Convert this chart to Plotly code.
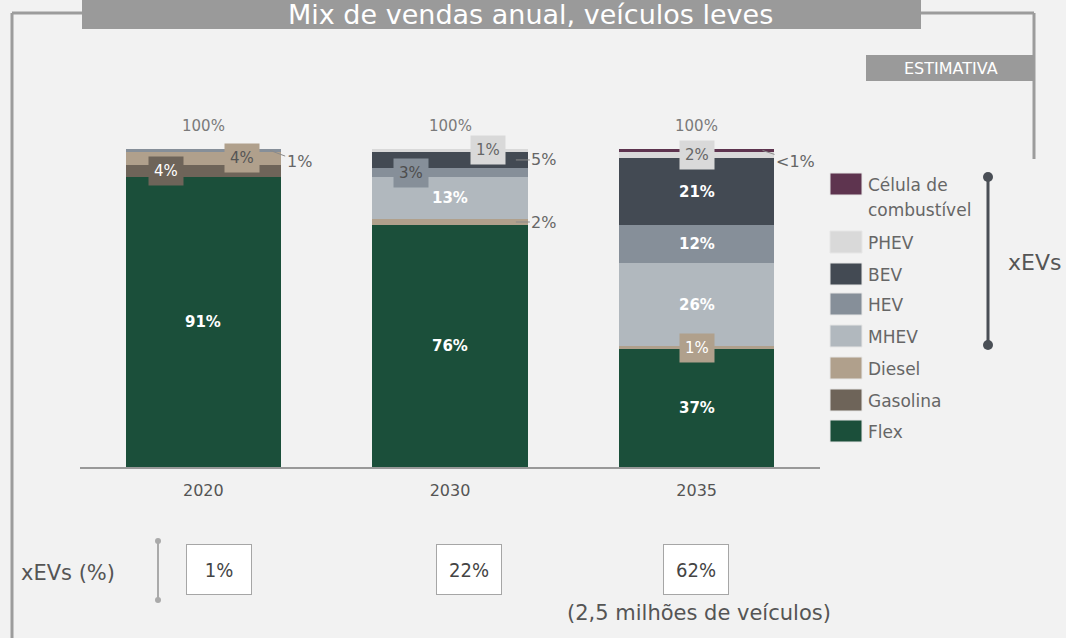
import plotly.graph_objects as go

# ---------------- data ----------------
years = ["2020", "2030", "2035"]
series_names = ["Flex", "Gasolina", "Diesel", "MHEV", "HEV", "BEV", "PHEV", "Célula de combustível"]
flex = [91, 76, 37]
gasolina = [4, 0, 0]
diesel = [4, 2, 1]
mhev = [0, 13, 26]
hev = [1, 3, 12]
bev = [0, 5, 21]
phev = [0, 1, 2]
celula = [0, 0, 1]
xev_series = ["MHEV", "HEV", "BEV", "PHEV", "Célula de combustível"]
legend_labels = ["Célula de<br>combustível", "PHEV", "BEV", "HEV", "MHEV", "Diesel", "Gasolina", "Flex"]
title_text = "Mix de vendas anual, veículos leves"
badge_text = "ESTIMATIVA"
xev_axis_text = "xEVs (%)"
xev_note = "(2,5 milhões de veículos)"
bracket_text = "xEVs"

values = dict(zip(series_names, [flex, gasolina, diesel, mhev, hev, bev, phev, celula]))

# ---------------- styles ----------------
colors = {
    "Flex": "#1b4f3a",
    "Gasolina": "#6e6459",
    "Diesel": "#b0a08c",
    "MHEV": "#b1b8be",
    "HEV": "#868f99",
    "BEV": "#434a53",
    "PHEV": "#d9d9d9",
    "Célula de combustível": "#5e344f",
}
BG = "#f2f2f2"
FONT = "DejaVu Sans, Verdana, sans-serif"
NARROW = "DejaVu Sans Condensed, Liberation Sans, sans-serif"

W, H = 1066, 638
L, R, T, B = 80, 246, 117, 171
PW, PH = W - L - R, H - T - B
YMAX = 110


def px(x):
    return (x - L) / PW


def py(y):
    return (H - B - y) / PH


def paper_text(x, y, text, font, xanchor="center", yanchor="middle", **kw):
    d = dict(x=px(x), y=py(y), xref="paper", yref="paper", text=text,
             showarrow=False, xanchor=xanchor, yanchor=yanchor, font=font)
    d.update(kw)
    return d


fig = go.Figure()
for name in series_names:
    fig.add_trace(go.Bar(
        x=years, y=values[name], name=name,
        marker=dict(color=colors[name], line=dict(width=0)),
        width=0.63, showlegend=False, hoverinfo="skip",
    ))

annotations = []
shapes = []

# cumulative bases
bases = {}
cum = [0, 0, 0]
for name in series_names:
    bases[name] = list(cum)
    cum = [c + v for c, v in zip(cum, values[name])]
totals = cum

# big inside labels
for name in series_names:
    for i, v in enumerate(values[name]):
        if v >= 10:
            annotations.append(dict(
                x=i, y=bases[name][i] + v / 2, xref="x", yref="y",
                xanchor="center", yanchor="middle",
                text=f"<b>{v}%</b>", showarrow=False,
                font=dict(family=FONT, size=15, color="white")))

# small boxed labels: (series, year index, x pixel shift, font color)
boxed = [
    ("Gasolina", 0, -37, "white"),
    ("Diesel", 0, 39, "#555555"),
    ("HEV", 1, -39, "#4d4d4d"),
    ("PHEV", 1, 38, "#666666"),
    ("PHEV", 2, 0, "#666666"),
    ("Diesel", 2, 0, "white"),
]
for name, i, shift, fc in boxed:
    v = values[name][i]
    annotations.append(dict(
        x=i, y=bases[name][i] + v / 2, xref="x", yref="y", xshift=shift,
        xanchor="center", yanchor="middle",
        text=f"{v}%", showarrow=False, bgcolor=colors[name], borderpad=5,
        font=dict(family=FONT, size=15, color=fc)))

# outside labels with leader lines: (series, year index, tip x offset (bar units), ax, ay, text)
outside = [
    ("HEV", 0, 0.271, 29, 11, "1%"),
    ("BEV", 1, 0.267, 28, 0, "5%"),
    ("Diesel", 1, 0.267, 28, 0, "2%"),
    ("Célula de combustível", 2, 0.267, 33, 11, "<1%"),
]
for name, i, dx, ax, ay, txt in outside:
    v = values[name][i]
    annotations.append(dict(
        x=i + dx, y=bases[name][i] + v / 2, xref="x", yref="y",
        text=txt.replace("<", "&lt;"), showarrow=True, arrowhead=0, arrowwidth=1,
        arrowcolor="#8a8a8a", ax=ax, ay=ay, axref="pixel", ayref="pixel",
        font=dict(family=FONT, size=16, color="#666666")))

# totals above bars
for i, t in enumerate(totals):
    annotations.append(dict(
        x=i, y=t, xref="x", yref="y", xanchor="center", yanchor="bottom", yshift=12,
        text=f"{round(t)}%", showarrow=False,
        font=dict(family=FONT, size=15, color="#7a7a7a")))

# xEV totals boxes
xev_tot = [sum(values[s][i] for s in xev_series) for i in range(len(years))]
box_shift = [15.5, 18.5, -0.5]
for i, v in enumerate(xev_tot):
    annotations.append(dict(
        x=i, xref="x", xshift=box_shift[i], y=py(569.5), yref="paper",
        xanchor="center", yanchor="middle",
        text=f"{v}%", showarrow=False, width=64, height=49, borderpad=0,
        bgcolor="white", bordercolor="#a6a6a6", borderwidth=1,
        font=dict(family=NARROW, size=20, color="#444444")))
annotations.append(dict(
    x=2, xref="x", xshift=2, y=py(613), yref="paper", xanchor="center", yanchor="middle",
    text=xev_note, showarrow=False,
    font=dict(family=FONT, size=21, color="#555555")))
annotations.append(paper_text(19, 573, xev_axis_text,
                              dict(family=FONT, size=21, color="#555555"), xanchor="left"))
shapes.append(dict(type="line", xref="paper", yref="paper",
                   x0=px(158), x1=px(158), y0=py(541), y1=py(600),
                   line=dict(color="#aaaaaa", width=2)))
for yy in (541, 600):
    shapes.append(dict(type="circle", xref="paper", yref="paper",
                       x0=px(155), x1=px(161), y0=py(yy - 3), y1=py(yy + 3),
                       fillcolor="#aaaaaa", line=dict(width=0)))

# legend (manual)
leg_order = list(reversed(series_names))
row_tops = [173, 231, 263, 293, 325, 357, 389, 420]
leg_font = dict(family=FONT, size=17, color="#666666")
for name, lab, top in zip(leg_order, legend_labels, row_tops):
    shapes.append(dict(type="rect", xref="paper", yref="paper",
                       x0=px(830), x1=px(862), y0=py(top), y1=py(top + 22),
                       fillcolor=colors[name], line=dict(color="#e6e6e6", width=1)))
    for k, line in enumerate(lab.split("<br>")):
        annotations.append(paper_text(866, top + 12 + 25 * k, line, leg_font, xanchor="left"))

# xEVs bracket
shapes.append(dict(type="line", xref="paper", yref="paper",
                   x0=px(988), x1=px(988), y0=py(177), y1=py(345),
                   line=dict(color="#4a4f56", width=3)))
for yy in (177, 345):
    shapes.append(dict(type="circle", xref="paper", yref="paper",
                       x0=px(983), x1=px(993), y0=py(yy - 5), y1=py(yy + 5),
                       fillcolor="#4a4f56", line=dict(width=0)))
annotations.append(paper_text(1034, 262, bracket_text, dict(family=FONT, size=22, color="#555555")))

# frame
frame_col = "#9c9c9c"
for (x0, y0, x1, y1) in [(12, 13, 82, 13), (12, 13, 12, 640), (921, 13, 1034, 13), (1034, 13, 1034, 159)]:
    shapes.append(dict(type="line", xref="paper", yref="paper",
                       x0=px(x0), x1=px(x1), y0=py(y0), y1=py(y1),
                       line=dict(color=frame_col, width=3)))
# title box
shapes.append(dict(type="rect", xref="paper", yref="paper",
                   x0=px(82), x1=px(921), y0=py(-2), y1=py(29),
                   fillcolor="#9a9a9a", line=dict(width=0)))
annotations.append(paper_text(530, 14, title_text, dict(family=FONT, size=27, color="white")))
# badge
shapes.append(dict(type="rect", xref="paper", yref="paper",
                   x0=px(866), x1=px(1034), y0=py(55), y1=py(81),
                   fillcolor="#9a9a9a", line=dict(width=0)))
annotations.append(paper_text(951, 68.5, badge_text, dict(family=FONT, size=16, color="white")))

fig.update_layout(
    width=W, height=H, barmode="stack",
    margin=dict(l=L, r=R, t=T, b=B, pad=0),
    paper_bgcolor=BG, plot_bgcolor=BG,
    annotations=annotations, shapes=shapes,
    xaxis=dict(type="category", range=[-0.5, 2.5], showgrid=False, zeroline=False,
               showline=True, linecolor="#999999", linewidth=2, ticks="",
               ticklabelstandoff=8,
               tickfont=dict(family=FONT, size=16, color="#555555")),
    yaxis=dict(range=[0, YMAX], visible=False, showgrid=False, zeroline=False),
)

fig.write_html("out.html", config={"displayModeBar": False},
               post_script="document.body.style.margin='0';document.body.style.background='#f2f2f2';")
